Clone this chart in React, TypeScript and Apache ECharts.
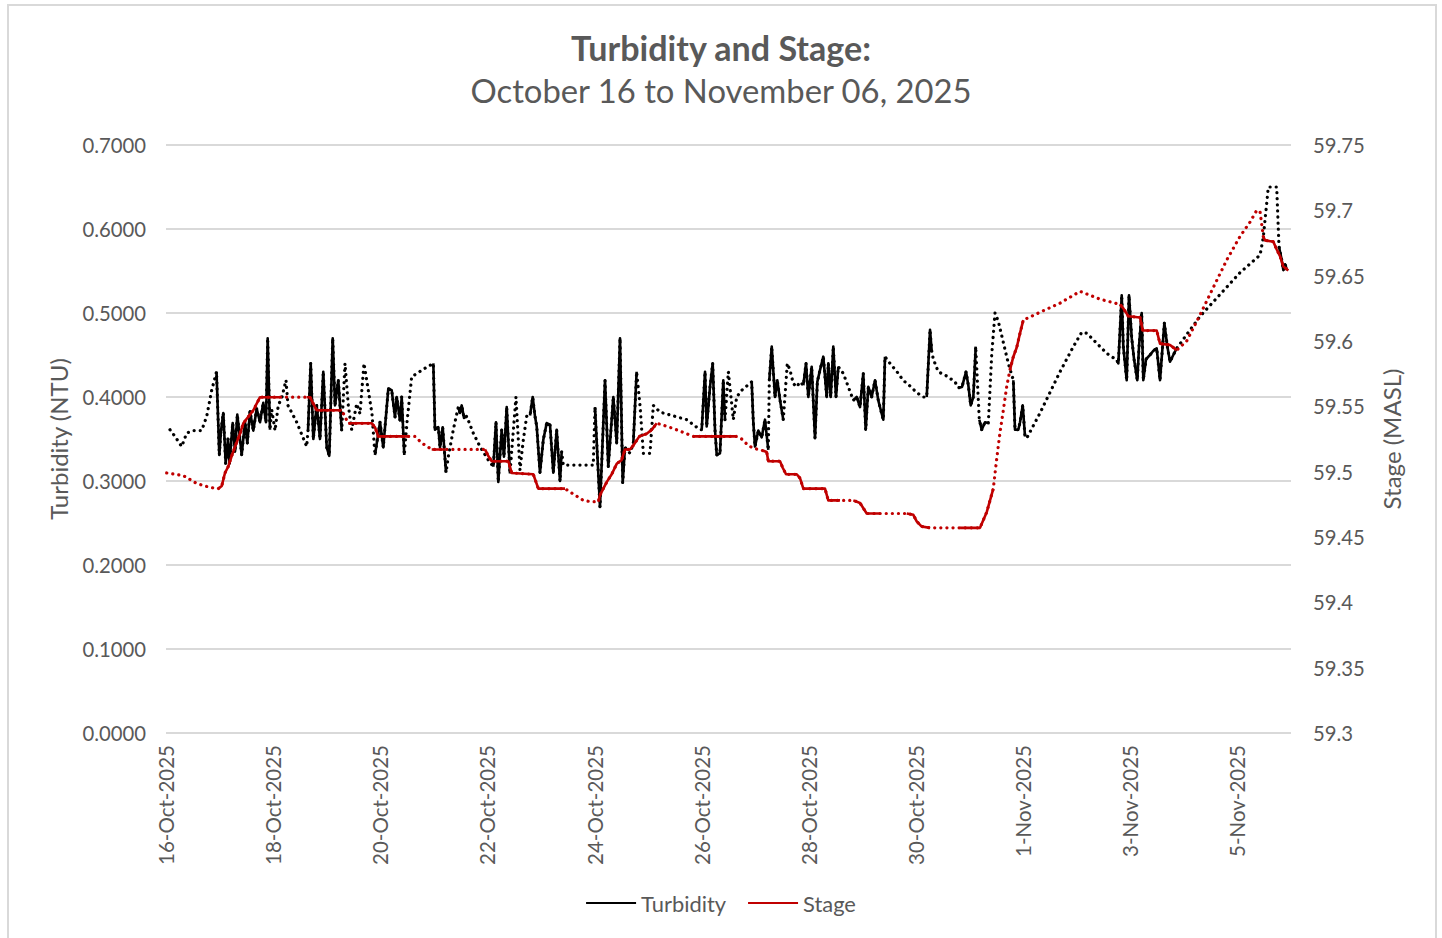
import React, { useEffect, useRef } from "react";
import * as echarts from "echarts";

type Pt = [number, number];

// x values are days elapsed since 16-Oct-2025 00:00
const dateTickLabels = [
  "16-Oct-2025", "18-Oct-2025", "20-Oct-2025", "22-Oct-2025", "24-Oct-2025", "26-Oct-2025",
  "28-Oct-2025", "30-Oct-2025", "1-Nov-2025", "3-Nov-2025", "5-Nov-2025",
];

const titleText = "Turbidity and Stage:";
const subtitleText = "October 16 to November 06, 2025";
const turbidityName = "Turbidity";
const stageName = "Stage";
const turbidityAxisName = "Turbidity (NTU)";
const stageAxisName = "Stage (MASL)";

// continuous logging runs; single-point runs are isolated readings
const turbidityRuns: Pt[][] = [
  [[0.075, 0.361]], [[0.168, 0.353]], [[0.293, 0.341]], [[0.386, 0.357]], [[0.504, 0.36]], [[0.666, 0.36]], [[0.76, 0.377]], [[0.853, 0.408]],
  [[0.943, 0.43], [0.995, 0.331], [1.027, 0.36], [1.07, 0.381], [1.114, 0.321], [1.157, 0.35], [1.185, 0.321], [1.245, 0.369], [1.288, 0.335], [1.331, 0.379], [1.413, 0.331], [1.475, 0.37], [1.518, 0.345], [1.568, 0.383], [1.63, 0.36], [1.693, 0.386], [1.755, 0.37], [1.816, 0.393], [1.867, 0.37], [1.898, 0.47], [1.941, 0.361]],
  [[1.973, 0.385]], [[2.035, 0.36]], [[2.096, 0.39]], [[2.165, 0.4]], [[2.24, 0.42]], [[2.277, 0.39]], [[2.44, 0.37]], [[2.626, 0.341]],
  [[2.651, 0.36], [2.701, 0.44], [2.75, 0.35], [2.813, 0.39], [2.875, 0.35], [2.936, 0.43], [3.0, 0.34], [3.048, 0.33], [3.112, 0.47], [3.155, 0.39], [3.216, 0.42], [3.28, 0.36]],
  [[3.341, 0.44]], [[3.403, 0.39]], [[3.466, 0.361]], [[3.56, 0.392]], [[3.621, 0.38]], [[3.696, 0.44]], [[3.771, 0.41]], [[3.845, 0.38]],
  [[3.901, 0.331], [3.995, 0.37], [4.056, 0.34], [4.15, 0.41], [4.213, 0.408], [4.275, 0.376], [4.306, 0.4], [4.368, 0.372], [4.4, 0.4], [4.448, 0.331]],
  [[4.499, 0.37]], [[4.586, 0.424]], [[4.803, 0.433]],
  [[4.99, 0.44], [5.021, 0.361], [5.083, 0.364], [5.115, 0.34], [5.165, 0.364], [5.227, 0.31]],
  [[5.27, 0.329]], [[5.363, 0.361]],
  [[5.456, 0.388], [5.488, 0.381], [5.52, 0.39], [5.563, 0.375], [5.613, 0.377]],
  [[5.736, 0.357]], [[5.861, 0.341]], [[6.016, 0.325]],
  [[6.11, 0.317], [6.16, 0.37], [6.203, 0.299], [6.266, 0.361], [6.309, 0.329], [6.36, 0.388], [6.421, 0.309]],
  [[6.533, 0.4]], [[6.608, 0.313]], [[6.67, 0.349]], [[6.733, 0.377]],
  [[6.795, 0.378], [6.845, 0.4], [6.888, 0.377], [6.92, 0.365], [6.981, 0.31], [7.043, 0.349], [7.107, 0.369], [7.168, 0.367], [7.23, 0.31], [7.293, 0.361], [7.355, 0.3], [7.386, 0.335]],
  [[7.416, 0.319]], [[7.976, 0.319]],
  [[8.008, 0.388], [8.101, 0.269], [8.195, 0.42], [8.256, 0.317], [8.35, 0.4], [8.413, 0.345], [8.475, 0.47], [8.525, 0.298], [8.568, 0.34]],
  [[8.661, 0.333]],
  [[8.723, 0.345], [8.785, 0.43]],
  [[8.848, 0.39]], [[8.91, 0.333]], [[9.035, 0.333]], [[9.097, 0.39]], [[9.222, 0.382]], [[9.72, 0.373]], [[9.968, 0.361]],
  [[10.0, 0.361], [10.062, 0.43], [10.093, 0.365], [10.155, 0.412], [10.205, 0.44], [10.248, 0.361], [10.28, 0.331], [10.341, 0.333], [10.403, 0.42], [10.435, 0.373]],
  [[10.497, 0.43]], [[10.59, 0.373]], [[10.653, 0.4]], [[10.746, 0.408]], [[10.84, 0.413]],
  [[10.933, 0.418], [10.963, 0.37], [10.995, 0.341], [11.057, 0.36], [11.12, 0.352], [11.181, 0.373], [11.243, 0.337]],
  [[11.262, 0.42], [11.307, 0.46], [11.368, 0.4], [11.411, 0.42], [11.462, 0.396], [11.523, 0.373]],
  [[11.598, 0.44]], [[11.648, 0.432]], [[11.71, 0.416]], [[11.773, 0.412]], [[11.835, 0.418]],
  [[11.897, 0.414], [11.947, 0.44], [11.99, 0.4], [12.053, 0.436], [12.115, 0.351], [12.158, 0.418], [12.208, 0.432], [12.27, 0.448], [12.333, 0.4], [12.363, 0.44], [12.408, 0.4], [12.456, 0.46], [12.507, 0.4], [12.55, 0.436]],
  [[12.643, 0.428]], [[12.737, 0.412]],
  [[12.83, 0.396], [12.893, 0.4], [12.955, 0.388], [13.016, 0.428], [13.061, 0.361], [13.11, 0.412], [13.173, 0.4], [13.235, 0.42], [13.296, 0.396], [13.36, 0.38], [13.39, 0.373], [13.421, 0.448]],
  [[13.515, 0.44]], [[13.646, 0.43]], [[13.758, 0.42]], [[13.888, 0.413]], [[14.019, 0.405]], [[14.136, 0.4]],
  [[14.2, 0.4], [14.262, 0.48], [14.293, 0.455]],
  [[14.323, 0.445]], [[14.416, 0.43]], [[14.573, 0.425]], [[14.728, 0.418]],
  [[14.79, 0.411], [14.859, 0.412], [14.934, 0.43], [14.977, 0.414], [15.021, 0.39], [15.07, 0.4], [15.115, 0.46]],
  [[15.145, 0.42]],
  [[15.182, 0.373], [15.227, 0.361], [15.288, 0.37], [15.35, 0.369]],
  [[15.413, 0.45]], [[15.475, 0.5]], [[15.537, 0.49]], [[15.63, 0.465]], [[15.723, 0.44]],
  [[15.817, 0.42], [15.848, 0.361], [15.91, 0.361], [15.942, 0.37], [15.992, 0.39], [16.035, 0.353]],
  [[16.067, 0.351]], [[16.315, 0.381]], [[16.688, 0.43]], [[16.937, 0.46]], [[17.093, 0.477]], [[17.187, 0.476]], [[17.56, 0.452]],
  [[17.747, 0.444], [17.777, 0.44], [17.84, 0.521], [17.87, 0.46], [17.933, 0.42], [17.976, 0.521], [18.027, 0.47], [18.07, 0.445], [18.131, 0.42], [18.163, 0.46], [18.213, 0.5], [18.243, 0.42], [18.294, 0.445], [18.368, 0.45], [18.43, 0.455], [18.493, 0.458], [18.555, 0.42], [18.636, 0.488], [18.692, 0.46], [18.742, 0.442], [18.803, 0.45], [18.867, 0.458]],
  [[19.302, 0.496]], [[20.048, 0.548]], [[20.422, 0.569]], [[20.483, 0.59]], [[20.577, 0.65]], [[20.733, 0.65]],
  [[20.776, 0.579], [20.827, 0.563], [20.857, 0.551], [20.889, 0.558], [20.926, 0.551]],
];

const stageRuns: Pt[][] = [
  [[0.013, 59.499]], [[0.168, 59.498]], [[0.323, 59.497]], [[0.448, 59.494]], [[0.573, 59.491]], [[0.728, 59.489]], [[0.821, 59.488]],
  [[0.976, 59.487], [1.04, 59.489], [1.101, 59.499], [1.163, 59.504], [1.226, 59.512], [1.288, 59.519], [1.381, 59.529], [1.443, 59.537], [1.536, 59.542], [1.63, 59.547], [1.755, 59.557], [2.128, 59.557]],
  [[2.315, 59.557]], [[2.501, 59.557]],
  [[2.626, 59.557], [2.688, 59.557], [2.75, 59.552], [2.813, 59.547], [3.28, 59.547]],
  [[3.341, 59.542]],
  [[3.403, 59.537], [3.84, 59.537], [3.901, 59.534], [3.963, 59.527], [4.517, 59.527]],
  [[4.648, 59.527]], [[4.773, 59.522]],
  [[4.96, 59.517], [5.208, 59.517]],
  [[5.395, 59.517]], [[5.581, 59.517]], [[5.861, 59.517]],
  [[5.955, 59.517], [6.016, 59.512], [6.08, 59.508], [6.39, 59.508], [6.453, 59.499], [6.856, 59.498], [6.95, 59.487], [7.448, 59.487]],
  [[7.597, 59.483]], [[7.79, 59.478]], [[7.933, 59.477]],
  [[8.07, 59.477], [8.101, 59.482], [8.163, 59.487], [8.226, 59.492], [8.32, 59.498], [8.413, 59.506], [8.506, 59.509], [8.568, 59.517], [8.661, 59.517], [8.723, 59.52], [8.835, 59.527], [8.973, 59.529], [9.066, 59.532], [9.16, 59.537]],
  [[9.253, 59.536]], [[9.47, 59.533]], [[9.72, 59.529]],
  [[9.843, 59.527], [10.653, 59.527]],
  [[10.746, 59.525]], [[10.87, 59.52]], [[10.963, 59.518]],
  [[11.15, 59.516], [11.213, 59.515], [11.243, 59.508], [11.462, 59.508], [11.512, 59.503], [11.574, 59.498], [11.773, 59.498], [11.835, 59.495], [11.897, 59.487], [12.301, 59.487], [12.363, 59.478], [12.582, 59.478]],
  [[12.707, 59.478]],
  [[12.83, 59.478], [12.955, 59.476], [13.08, 59.468], [13.328, 59.468]],
  [[13.515, 59.468]], [[13.702, 59.468]],
  [[13.827, 59.468], [13.95, 59.467], [14.013, 59.462], [14.107, 59.458], [14.262, 59.457]],
  [[14.448, 59.457]], [[14.635, 59.457]],
  [[14.822, 59.457], [15.195, 59.457], [15.257, 59.463], [15.32, 59.469], [15.382, 59.478], [15.443, 59.487]],
  [[15.507, 59.51]], [[15.568, 59.53]], [[15.63, 59.547]], [[15.693, 59.565]],
  [[15.755, 59.578], [15.817, 59.588], [15.88, 59.595], [15.942, 59.606], [16.003, 59.616]],
  [[16.315, 59.622]], [[16.688, 59.629]], [[17.062, 59.638]], [[17.435, 59.632]],
  [[17.808, 59.628], [17.87, 59.625], [17.963, 59.619], [18.182, 59.618], [18.232, 59.608], [18.493, 59.608], [18.555, 59.598], [18.742, 59.597], [18.867, 59.593]],
  [[19.053, 59.6]], [[19.302, 59.62]], [[19.55, 59.641]], [[19.8, 59.662]], [[20.048, 59.68]], [[20.235, 59.691]], [[20.36, 59.7]], [[20.422, 59.699]],
  [[20.483, 59.68], [20.515, 59.677], [20.671, 59.676], [20.733, 59.67], [20.795, 59.665], [20.857, 59.657], [20.951, 59.654]],
];

const FONT = "Lato, 'Open Sans', sans-serif";
const TEXT = "#595959";
const GRID = "#D9D9D9";
const BLACK = "#000000";
const RED = "#C00000";

function fitSize(text: string, target: number, weight: string, fallback: number): number {
  try {
    const ctx = document.createElement("canvas").getContext("2d");
    if (!ctx) return fallback;
    ctx.font = `${weight} 100px Lato`;
    const w = ctx.measureText(text).width;
    if (!w) return fallback;
    return Math.round(((100 * target) / w) * 10) / 10;
  } catch (e) {
    return fallback;
  }
}

function flatAll(runs: Pt[][]): Pt[] {
  const out: Pt[] = [];
  runs.forEach((r) => r.forEach((p) => out.push(p)));
  return out;
}

function solidRuns(runs: Pt[][]): any[] {
  const out: any[] = [];
  runs
    .filter((r) => r.length > 1)
    .forEach((r, i) => {
      if (i > 0) out.push(["-", "-"]);
      r.forEach((p) => out.push(p));
    });
  return out;
}

export default function App() {
  const ref = useRef<HTMLDivElement>(null);

  useEffect(() => {
    if (!ref.current) return;
    const chart = echarts.init(ref.current, undefined, { renderer: "svg" });

    const titleSize = fitSize(titleText, 301, "bold", 31);
    const subSize = fitSize(subtitleText, 502, "normal", 31);
    const tickSize = fitSize("59.75", 52, "normal", 20);
    const xTickSize = fitSize("16-Oct-2025", 120, "normal", 20);
    const axisNameSize = fitSize(turbidityAxisName, 162, "normal", 22);
    const legendSize = fitSize(turbidityName, 85, "normal", 20);

    const dotted = { type: [0.1, 6], cap: "round", join: "round", width: 3.2 } as any;

    const option: any = {
      animation: false,
      backgroundColor: "#ffffff",
      textStyle: { fontFamily: FONT },
      title: {
        text: titleText,
        subtext: subtitleText,
        left: "center",
        top: 28,
        padding: 0,
        itemGap: 7,
        textStyle: { fontFamily: FONT, fontSize: titleSize, fontWeight: "bold", color: TEXT, lineHeight: 38 },
        subtextStyle: { fontFamily: FONT, fontSize: subSize, color: TEXT, lineHeight: 34 },
      },
      legend: {
        bottom: 19,
        left: "center",
        itemWidth: 50,
        itemHeight: 2,
        itemGap: 22,
        data: [
          { name: turbidityName, icon: "rect" },
          { name: stageName, icon: "rect" },
        ],
        textStyle: { fontFamily: FONT, fontSize: legendSize, color: TEXT },
      },
      graphic: [
        {
          type: "rect",
          silent: true,
          z: -10,
          shape: { x: 8, y: 5, width: 1428, height: 960 },
          style: { fill: "none", stroke: GRID, lineWidth: 2 },
        },
      ],
      grid: { left: 166, right: 151, top: 145, bottom: 205, containLabel: false },
      xAxis: {
        type: "value",
        min: 0,
        max: 21,
        interval: 2,
        axisLine: { show: false },
        axisTick: { show: false },
        splitLine: { show: false },
        axisLabel: {
          rotate: 90,
          margin: 12,
          color: TEXT,
          fontFamily: FONT,
          fontSize: xTickSize,
          showMaxLabel: false,
          formatter: (v: number) => {
            const i = Math.round(v / 2);
            return Math.abs(v - i * 2) < 1e-6 && dateTickLabels[i] ? dateTickLabels[i] : "";
          },
        },
      },
      yAxis: [
        {
          type: "value",
          min: 0,
          max: 0.7,
          interval: 0.1,
          name: turbidityAxisName,
          nameLocation: "middle",
          nameGap: 96,
          nameTextStyle: { fontFamily: FONT, fontSize: axisNameSize, color: TEXT },
          axisLine: { show: false },
          axisTick: { show: false },
          splitLine: { show: true, lineStyle: { color: GRID, width: 2 } },
          axisLabel: {
            margin: 20,
            color: TEXT,
            fontFamily: FONT,
            fontSize: tickSize,
            formatter: (v: number) => v.toFixed(4),
          },
        },
        {
          type: "value",
          position: "right",
          min: 59.3,
          max: 59.75,
          interval: 0.05,
          name: stageAxisName,
          nameLocation: "middle",
          nameGap: 88,
          nameTextStyle: { fontFamily: FONT, fontSize: axisNameSize, color: TEXT },
          axisLine: { show: false },
          axisTick: { show: false },
          splitLine: { show: false },
          axisLabel: {
            margin: 22,
            color: TEXT,
            fontFamily: FONT,
            fontSize: tickSize,
            formatter: (v: number) => String(+v.toFixed(2)),
          },
        },
      ],
      series: [
        {
          name: "Turbidity gaps",
          type: "line",
          yAxisIndex: 0,
          data: flatAll(turbidityRuns),
          showSymbol: false,
          symbol: "none",
          silent: true,
          lineStyle: { ...dotted, color: BLACK },
          z: 2,
        },
        {
          name: turbidityName,
          type: "line",
          yAxisIndex: 0,
          data: solidRuns(turbidityRuns),
          showSymbol: false,
          symbol: "none",
          connectNulls: false,
          silent: true,
          itemStyle: { color: BLACK },
          lineStyle: { color: BLACK, width: 2.6, join: "round" },
          z: 3,
        },
        {
          name: "Stage gaps",
          type: "line",
          yAxisIndex: 1,
          data: flatAll(stageRuns),
          showSymbol: false,
          symbol: "none",
          silent: true,
          lineStyle: { ...dotted, color: RED },
          z: 4,
        },
        {
          name: stageName,
          type: "line",
          yAxisIndex: 1,
          data: solidRuns(stageRuns),
          showSymbol: false,
          symbol: "none",
          connectNulls: false,
          silent: true,
          itemStyle: { color: RED },
          lineStyle: { color: RED, width: 2.6, join: "round" },
          z: 5,
        },
      ],
    };

    chart.setOption(option);
    return () => chart.dispose();
  }, []);

  return (
    <div style={{ position: "fixed", left: 0, top: 0, width: 1442, height: 938, background: "#fff" }}>
      <div ref={ref} style={{ width: 1442, height: 938 }} />
    </div>
  );
}
